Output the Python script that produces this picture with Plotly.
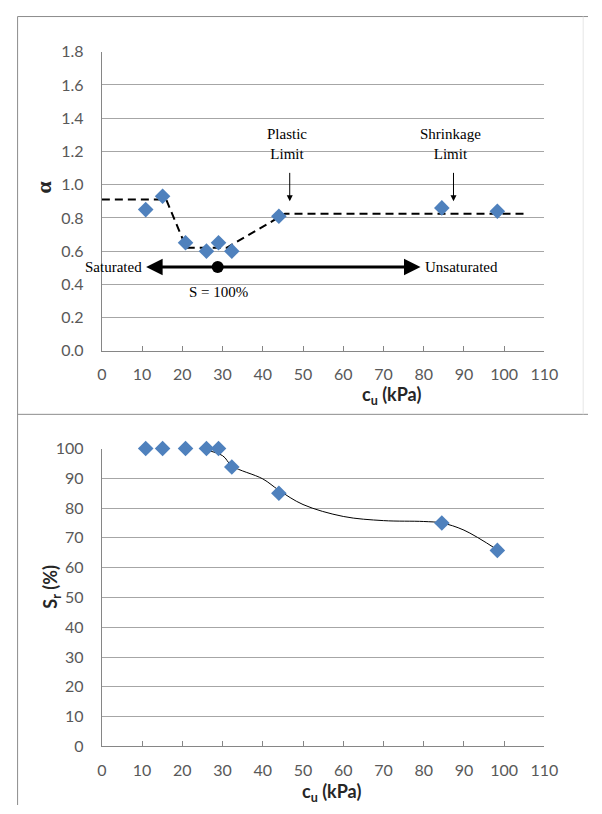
import plotly.graph_objects as go

# ---- data ----
cu = [10.9, 15.1, 20.8, 26.0, 29.0, 32.3, 44.0, 84.5, 98.3]
alpha = [0.85, 0.93, 0.65, 0.60, 0.65, 0.60, 0.81, 0.86, 0.84]
sr = [100, 100, 100, 100, 100, 93.8, 85.0, 75.0, 65.8]

dash_x = [0, 16, 21, 31, 45.5, 106]
dash_y = [0.91, 0.91, 0.62, 0.62, 0.825, 0.825]

trend_x = [24.3, 30, 32.3, 40, 44, 50, 60, 70, 80, 84.5, 90, 98.3]
trend_y = [100, 97.6, 94.2, 89.8, 86.0, 81.2, 77.2, 75.8, 75.5, 75.0, 72.6, 66.0]

x_ticks = list(range(0, 111, 10))
alpha_ticks = [0.0, 0.2, 0.4, 0.6, 0.8, 1.0, 1.2, 1.4, 1.6, 1.8]
sr_ticks = list(range(0, 101, 10))

W, H = 602, 814
BLUE = "#4f81bd"
GRID = "#a6a6a6"
TICKC = "#595959"
SANS = "Lato, 'Open Sans', sans-serif"
SERIF = "'Liberation Serif', 'DejaVu Serif', serif"

def px_x(p):
    return p / W

def px_y(p):
    return 1 - p / H

fig = go.Figure()

# top panel
fig.add_trace(go.Scatter(x=dash_x, y=dash_y, mode="lines",
                         line=dict(color="black", width=2, dash="8px,5px"),
                         xaxis="x", yaxis="y", showlegend=False, cliponaxis=False))
fig.add_trace(go.Scatter(x=cu, y=alpha, mode="markers",
                         marker=dict(symbol="diamond", size=12, color=BLUE),
                         xaxis="x", yaxis="y", showlegend=False, cliponaxis=False))
fig.add_trace(go.Scatter(x=[28.8], y=[0.505], mode="markers",
                         marker=dict(symbol="circle", size=12, color="black"),
                         xaxis="x", yaxis="y", showlegend=False, cliponaxis=False))

# bottom panel
fig.add_trace(go.Scatter(x=trend_x, y=trend_y, mode="lines",
                         line=dict(color="black", width=1, shape="spline", smoothing=1.0),
                         xaxis="x2", yaxis="y2", showlegend=False, cliponaxis=False))
fig.add_trace(go.Scatter(x=cu, y=sr, mode="markers",
                         marker=dict(symbol="diamond", size=12, color=BLUE),
                         xaxis="x2", yaxis="y2", showlegend=False, cliponaxis=False))

xdom = [px_x(100), px_x(557)]
axis_common = dict(showgrid=False, zeroline=False, showline=True, linecolor="#868686",
                   linewidth=1, tickfont=dict(family=SANS, size=16, color=TICKC))

fig.update_layout(
    width=W, height=H, margin=dict(l=0, r=0, t=0, b=0),
    paper_bgcolor="white", plot_bgcolor="white",
    xaxis=dict(domain=xdom, range=[0, 110], tickvals=x_ticks, ticks="inside", ticklen=5,
               tickcolor="#868686", anchor="y", ticklabelstandoff=9, **axis_common),
    yaxis=dict(domain=[px_y(349), px_y(42.7)], range=[0, 1.8], tickvals=alpha_ticks,
               tickformat=".1f", anchor="x", ticks="", ticklabelstandoff=14,
               **{**axis_common, "showgrid": True}, gridcolor=GRID, gridwidth=1),
    xaxis2=dict(domain=xdom, range=[0, 110], tickvals=x_ticks, ticks="inside", ticklen=5,
                tickcolor="#868686", anchor="y2", ticklabelstandoff=9, **axis_common),
    yaxis2=dict(domain=[px_y(754), px_y(449)], range=[0, 100], tickvals=sr_ticks,
                anchor="x2", ticks="", ticklabelstandoff=14,
                **{**axis_common, "showgrid": True}, gridcolor=GRID, gridwidth=1),
)

# borders
bc = "#8c8c8c"
fig.add_shape(type="line", xref="paper", yref="paper", x0=px_x(13), x1=px_x(13), y0=0, y1=px_y(6.7),
              line=dict(color=bc, width=1))
fig.add_shape(type="line", xref="paper", yref="paper", x0=px_x(13), x1=1, y0=px_y(6.7), y1=px_y(6.7),
              line=dict(color=bc, width=1))
fig.add_shape(type="line", xref="paper", yref="paper", x0=px_x(13), x1=1, y0=px_y(414), y1=px_y(414),
              line=dict(color=bc, width=1))
fig.add_shape(type="line", xref="paper", yref="paper", x0=px_x(597), x1=px_x(597), y0=px_y(414), y1=px_y(6.7),
              line=dict(color="#e6e6e6", width=1))

C = dict(xanchor="center", yanchor="middle")
ann = []
# axis titles
ann.append(dict(text="<b>c<sub>u</sub> (kPa)</b>", xref="paper", yref="paper", x=px_x(399), y=px_y(395),
                showarrow=False, font=dict(family=SANS, size=18, color="#262626"), **C))
ann.append(dict(text="<b>c<sub>u</sub> (kPa)</b>", xref="paper", yref="paper", x=px_x(337), y=px_y(801),
                showarrow=False, font=dict(family=SANS, size=18, color="#262626"), **C))
ann.append(dict(text="<b>α</b>", xref="paper", yref="paper", x=px_x(40), y=px_y(181),
                showarrow=False, textangle=-90, font=dict(family=SERIF, size=22, color="#262626"), **C))
ann.append(dict(text="<b>S<sub>r</sub> (%)</b>", xref="paper", yref="paper", x=px_x(48), y=px_y(590),
                showarrow=False, textangle=-90, font=dict(family=SANS, size=18, color="#262626"), **C))

# saturation arrows
for tip in (11.0, 79.2):
    ann.append(dict(x=tip, y=0.505, ax=28.8, ay=0.505, xref="x", yref="y", axref="x", ayref="y",
                    showarrow=True, arrowhead=2, arrowsize=1.1, arrowwidth=3, arrowcolor="black", text=""))
ann.append(dict(text="Saturated", x=10.6, y=0.505, xref="x", yref="y", xanchor="right", yanchor="middle",
                showarrow=False, font=dict(family=SERIF, size=15, color="black")))
ann.append(dict(text="Unsaturated", x=79.8, y=0.505, xref="x", yref="y", xanchor="left", yanchor="middle",
                showarrow=False, font=dict(family=SERIF, size=15, color="black")))
ann.append(dict(text="S = 100%", x=29.0, y=0.352, xref="x", yref="y", showarrow=False,
                font=dict(family=SERIF, size=15, color="black"), **C))

# limit arrows
for xa, label in ((46.7, "Plastic<br>Limit"), (87.4, "Shrinkage<br>Limit")):
    ann.append(dict(x=xa, y=0.90, ax=xa, ay=1.08, xref="x", yref="y", axref="x", ayref="y",
                    showarrow=True, arrowhead=2, arrowsize=1.2, arrowwidth=1, arrowcolor="black", text=""))
    ann.append(dict(text=label, x=xa - 0.8, y=1.245, xref="x", yref="y", showarrow=False,
                    font=dict(family=SERIF, size=15, color="black"), **C))

fig.update_layout(annotations=ann)
fig.write_html("out.html")
